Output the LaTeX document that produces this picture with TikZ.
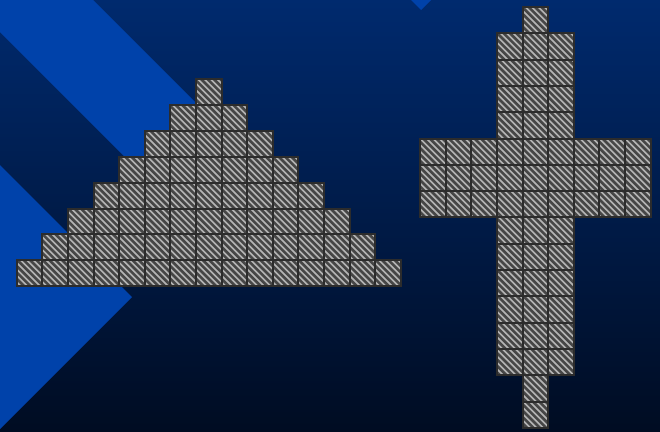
\documentclass[tikz,border=0pt]{standalone}
\definecolor{bgtop}{RGB}{0,42,110}
\definecolor{bgbot}{RGB}{0,12,34}
\definecolor{brightblue}{RGB}{0,66,170}
\definecolor{cellgray}{RGB}{180,180,180}
\definecolor{hatchgray}{RGB}{70,70,70}
\definecolor{gridgray}{RGB}{44,44,44}

\begin{document}
\begin{tikzpicture}[
  x=1pt, y=-1pt,
  band/.style={fill=brightblue},
  hatch/.style={draw=hatchgray, line width=2.6pt},
  cell/.style={draw=gridgray, line width=2pt}
]
  \useasboundingbox (0,0) rectangle (660,431);
  \shade[top color=bgtop, bottom color=bgbot] (0,0) rectangle (660,431);

  \fill[band] (0,0) -- (93,0) -- (230,137) -- (160,192) -- (0,32) -- cycle;
  \fill[band] (0,165) -- (132,297) -- (0,429) -- cycle;
  \fill[band] (411,0) -- (431,0) -- (421,10) -- cycle;

  % stepped triangle
  \begin{scope}
    \clip \foreach \r in {0,...,7} {(196-25.6*\r, 79+25.9*\r) rectangle ++(25.6*2*\r+25.6, 25.9)};
    \fill[cellgray] (0,0) rectangle (420,300);
    \foreach \k in {-60,...,75}
      \draw[hatch] (6.4*\k, 70) -- ++(230,230);
  \end{scope}
  \foreach \r in {0,...,7} {
    \pgfmathtruncatemacro{\n}{2*\r}
    \foreach \c in {0,...,\n}
      \draw[cell] (196-25.6*\r+25.6*\c, 79+25.9*\r) rectangle ++(25.6,25.9);
  }

  % cross
  \begin{scope}
    \clip \foreach \r/\a/\b/\m in {0/0/0/1, 1/-1/1/4, 5/-4/4/3, 8/-1/1/6, 14/0/0/2}
      {(522.5+25.6*\a, 7+26.3*\r) rectangle (548.1+25.6*\b, 7+26.3*\r+26.3*\m)};
    \fill[cellgray] (400,0) rectangle (660,431);
    \foreach \k in {-75,...,45}
      \draw[hatch] (6.4*\k+400, 0) -- ++(431,431);
  \end{scope}
  \foreach \r/\a/\b in {0/0/0, 1/-1/1, 2/-1/1, 3/-1/1, 4/-1/1, 5/-4/4, 6/-4/4, 7/-4/4,
      8/-1/1, 9/-1/1, 10/-1/1, 11/-1/1, 12/-1/1, 13/-1/1, 14/0/0, 15/0/0}
    \foreach \c in {\a,...,\b}
      \draw[cell] (522.5+25.6*\c, 7+26.3*\r) rectangle ++(25.6,26.3);
\end{tikzpicture}
\end{document}
